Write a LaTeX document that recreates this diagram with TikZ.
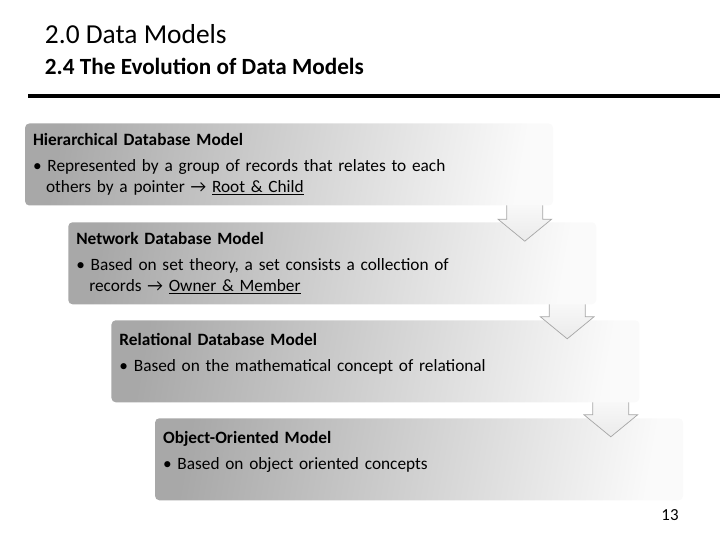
\documentclass[tikz,border=0pt]{standalone}
\usepackage{fontspec}
\setmainfont{Carlito}
\usetikzlibrary{positioning}

\tikzset{
  modelbox/.style={rectangle, rounded corners=3pt, minimum width=13.2cm, minimum height=2.05cm,
    left color=black!34, right color=black!2, shading angle=80, text width=12.8cm, align=left,
    font=\fontsize{12.3}{14.5}\selectfont, inner sep=4pt},
  downarrow/.style={draw=black!35, top color=white, bottom color=black!8, line width=0.5pt}
}
\newcommand{\blockdown}[2]{% x of centre, y top
  \draw[downarrow] (#1-0.45,#2) -- (#1+0.45,#2) -- (#1+0.45,#2+0.8) -- (#1+0.67,#2+0.8)
    -- (#1,#2+1.35) -- (#1-0.67,#2+0.8) -- (#1-0.45,#2+0.8) -- cycle;}

\begin{document}
\begin{tikzpicture}[x=1cm,y=-1cm]
\useasboundingbox (0,0) rectangle (18,13.5);

\node[anchor=west, font=\fontsize{19.5}{22}\selectfont] (title) at (1.0,0.85) {2.0 Data Models};
\node[anchor=west, font=\fontsize{16.5}{20}\selectfont\bfseries] (subtitle) at (1.0,1.65) {2.4 The Evolution of Data Models};
\draw[line width=2.5pt] (0.7,2.4) -- (18,2.4);

% from the last box up, so each arrow lies under the box it leaves
\node[modelbox, anchor=north west] (obj) at (3.87,10.45)
  {\textbf{Object-Oriented Model}\\[4pt]
   \textbullet{} Based on object oriented concepts\\[-2pt]\mbox{}};
\blockdown{15.27}{9.57}
\node[modelbox, anchor=north west] (rel) at (2.78,8.0)
  {\textbf{Relational Database Model}\\[4pt]
   \textbullet{} Based on the mathematical concept of relational\\[-2pt]\mbox{}};
\blockdown{14.18}{7.12}
\node[modelbox, anchor=north west] (net) at (1.7,5.55)
  {\textbf{Network Database Model}\\[4pt]
   \textbullet{} Based on set theory, a set consists a collection of\\
   \hspace*{0.75em}records → \underline{Owner \& Member}};
\blockdown{13.12}{4.68}
\node[modelbox, anchor=north west] (hier) at (0.62,3.08)
  {\textbf{Hierarchical Database Model}\\[4pt]
   \textbullet{} Represented by a group of records that relates to each\\
   \hspace*{0.75em}others by a pointer → \underline{Root \& Child}};

\node[font=\fontsize{12}{14}\selectfont] (page) at (16.75,12.87) {13};
\end{tikzpicture}
\end{document}
